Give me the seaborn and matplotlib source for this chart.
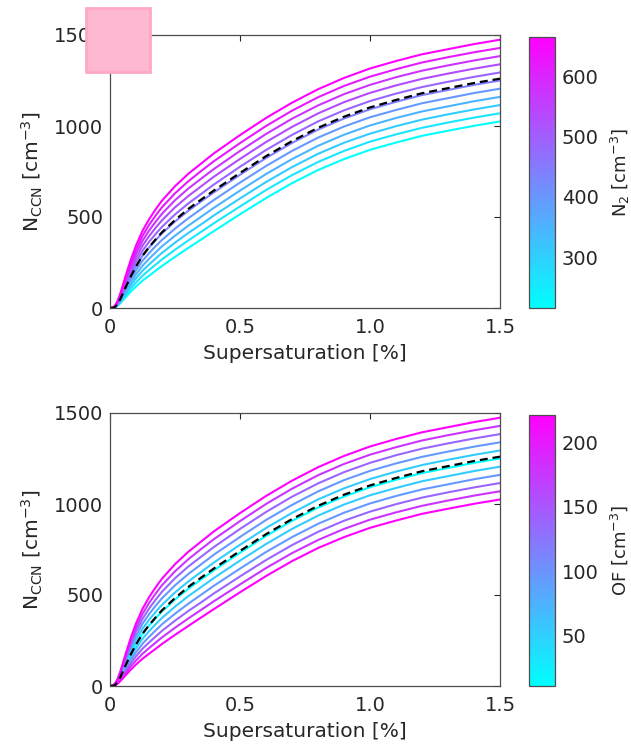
import numpy as np
import pandas as pd
import matplotlib
matplotlib.use("Agg")
import matplotlib.pyplot as plt
from matplotlib.patches import Rectangle
import seaborn as sns

# Supersaturation grid [%]
supersat = [0, 0.01, 0.02, 0.03, 0.04, 0.05, 0.06, 0.08, 0.10, 0.125, 0.15, 0.175,
            0.20, 0.25, 0.30, 0.35, 0.40, 0.50, 0.60, 0.70, 0.80, 0.90, 1.00,
            1.10, 1.20, 1.30, 1.40, 1.50]

# CCN spectra [cm-3], one row per ensemble member (lowest to highest)
ccn_curves = [
    [0, 1, 4, 14, 27, 43, 59, 90, 118, 150, 177, 204, 231, 281, 329, 376, 423, 515, 604, 686, 758, 818, 869, 909, 946, 974, 1001, 1025],
    [0, 1, 5, 17, 32, 52, 71, 108, 140, 177, 208, 238, 267, 320, 370, 418, 466, 558, 648, 730, 802, 863, 914, 954, 990, 1019, 1046, 1070],
    [0, 1, 6, 19, 38, 60, 82, 125, 163, 205, 239, 271, 303, 359, 411, 459, 509, 602, 692, 774, 847, 908, 958, 999, 1035, 1064, 1091, 1115],
    [0, 1, 7, 22, 43, 69, 94, 143, 185, 232, 270, 305, 339, 397, 451, 501, 551, 645, 736, 818, 891, 952, 1003, 1044, 1080, 1108, 1136, 1160],
    [0, 1, 8, 25, 48, 77, 106, 160, 208, 259, 301, 339, 374, 436, 492, 543, 594, 689, 780, 863, 936, 997, 1048, 1088, 1125, 1153, 1181, 1205],
    [0, 1, 9, 27, 54, 86, 118, 178, 230, 287, 332, 372, 410, 475, 533, 585, 636, 732, 824, 907, 980, 1041, 1092, 1133, 1170, 1198, 1226, 1250],
    [0, 1, 10, 30, 59, 94, 129, 195, 253, 314, 363, 406, 446, 514, 573, 626, 679, 776, 868, 951, 1025, 1086, 1137, 1178, 1214, 1243, 1270, 1294],
    [0, 2, 11, 33, 65, 103, 141, 213, 275, 342, 394, 440, 482, 553, 614, 668, 722, 819, 912, 995, 1069, 1131, 1182, 1223, 1259, 1288, 1315, 1339],
    [0, 2, 11, 36, 70, 111, 153, 230, 298, 369, 425, 473, 518, 592, 655, 710, 764, 863, 956, 1040, 1113, 1175, 1226, 1268, 1304, 1333, 1360, 1384],
    [0, 2, 12, 38, 75, 120, 164, 248, 320, 396, 456, 507, 554, 630, 695, 752, 807, 906, 1000, 1084, 1158, 1220, 1271, 1312, 1349, 1378, 1405, 1429],
    [0, 2, 13, 41, 81, 128, 176, 265, 343, 424, 487, 541, 590, 669, 736, 793, 850, 950, 1044, 1128, 1202, 1264, 1316, 1357, 1394, 1422, 1450, 1474],
]

# Reference spectrum (dashed)
ccn_reference = [0, 0, 6, 24, 50, 82, 114, 174, 228, 287, 334, 376, 416, 483, 543, 595,
                 646, 742, 834, 917, 990, 1051, 1102, 1143, 1180, 1208, 1236, 1260]

# Colour variables of each member
n2_values = [216, 261, 306, 351, 396, 441, 485, 530, 575, 620, 665]
of_values = [221, 179, 137, 95, 53, 11, 53, 95, 137, 179, 221]

n2_ticks = [300, 400, 500, 600]
of_ticks = [50, 100, 150, 200]
x_ticks = [0, 0.5, 1.0, 1.5]
x_ticklabels = ["0", "0.5", "1.0", "1.5"]
y_ticks = [0, 500, 1000, 1500]

sns.set_theme(style="white")
plt.rcParams["font.family"] = ["DejaVu Sans"]
text_col = "#262626"
plt.rcParams.update({
    "text.color": text_col, "axes.labelcolor": text_col,
    "xtick.color": text_col, "ytick.color": text_col,
    "axes.edgecolor": text_col,
})

rows = []
for i, curve in enumerate(ccn_curves):
    for s, n in zip(supersat, curve):
        rows.append({"member": i, "S": s, "N": n,
                     "N2": n2_values[i], "OF": of_values[i]})
df = pd.DataFrame(rows)
ref_df = pd.DataFrame({"S": supersat, "N": ccn_reference})

W, H = 631, 747
fig = plt.figure(figsize=(W / 100, H / 100), dpi=100)

panels = [
    dict(hue="N2", norm=(216, 665), ticks=n2_ticks, label=r"N$_2$ [cm$^{-3}$]",
         ax_box=(110, 35, 500, 308), cb_box=(529, 37, 555, 308)),
    dict(hue="OF", norm=(11, 221), ticks=of_ticks, label=r"OF [cm$^{-3}$]",
         ax_box=(110, 413, 500, 686), cb_box=(529, 415, 555, 686)),
]

def fig_rect(box):
    x0, y0, x1, y1 = box
    return [x0 / W, 1 - y1 / H, (x1 - x0) / W, (y1 - y0) / H]

fs_tick = 14
fs_label = 14.5

for p in panels:
    ax = fig.add_axes(fig_rect(p["ax_box"]))
    sns.lineplot(data=df, x="S", y="N", hue=p["hue"], units="member",
                 estimator=None, palette="cool", hue_norm=p["norm"],
                 legend=False, lw=1.5, ax=ax)
    sns.lineplot(data=ref_df, x="S", y="N", color="black", lw=1.6,
                 linestyle=(0, (3.6, 2.2)), ax=ax)
    ax.set_xlim(0, 1.5)
    ax.set_ylim(0, 1500)
    ax.set_xticks(x_ticks)
    ax.set_xticklabels(x_ticklabels)
    ax.set_yticks(y_ticks)
    ax.tick_params(direction="in", length=4, width=0.8, labelsize=fs_tick,
                   top=True, right=True, pad=5)
    ax.tick_params(axis="x", pad=7)
    for sp in ax.spines.values():
        sp.set_linewidth(0.9)
        sp.set_color("#4d4d4d")
    ax.set_xlabel("Supersaturation [%]", fontsize=fs_label, labelpad=5)
    ax.set_ylabel(r"N$_{\mathrm{CCN}}$ [cm$^{-3}$]", fontsize=fs_label, labelpad=6)

    cax = fig.add_axes(fig_rect(p["cb_box"]))
    sm = plt.cm.ScalarMappable(cmap="cool",
                               norm=plt.Normalize(*p["norm"]))
    cb = fig.colorbar(sm, cax=cax)
    cb.set_ticks(p["ticks"])
    cb.ax.tick_params(direction="in", length=4, width=0.8, labelsize=fs_tick,
                      pad=5)
    cb.outline.set_linewidth(0.9)
    cb.outline.set_edgecolor("#4d4d4d")
    cb.set_label(p["label"], fontsize=13, labelpad=7)

# pink marker square at the top left
fig.patches.append(Rectangle((85.5 / W, 1 - 72 / H), 64 / W, 64 / H,
                             transform=fig.transFigure, facecolor="#ffb8d1",
                             edgecolor="#ffa8c6", linewidth=2.0, zorder=10))

fig.savefig("out.png", dpi=100)
